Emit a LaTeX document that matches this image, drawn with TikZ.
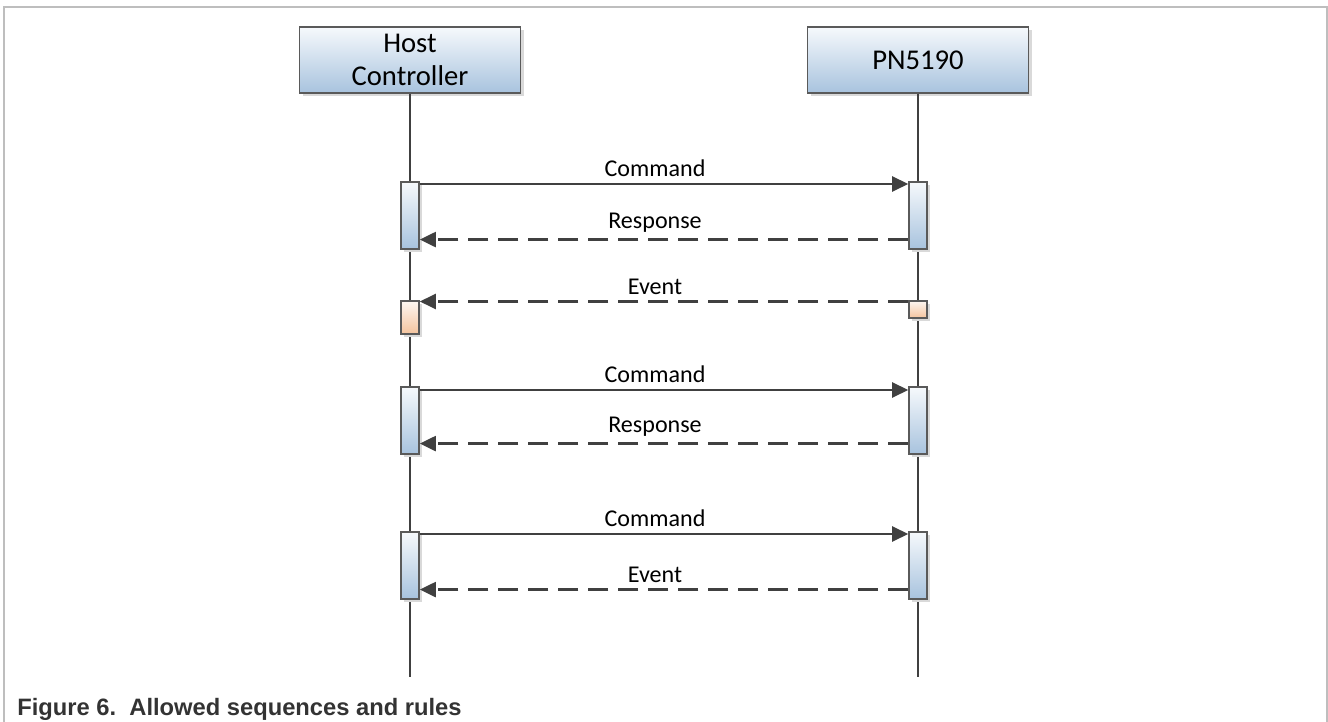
\documentclass[tikz,border=0pt]{standalone}
\usepackage{fontspec}
\setmainfont{Carlito}
\newfontfamily\capfont{Liberation Sans}
\usetikzlibrary{shapes,shadows,arrows.meta}
\definecolor{lineg}{HTML}{404040}
\definecolor{edgeg}{HTML}{5A5A5A}
\definecolor{frameg}{HTML}{BEBEBE}
\definecolor{bluetop}{HTML}{F6F9FC}
\definecolor{bluebot}{HTML}{A8C3DE}
\definecolor{orgtop}{HTML}{FDF7F2}
\definecolor{orgbot}{HTML}{F4C49E}
\tikzstyle{actor}=[rectangle,draw=edgeg,line width=0.9pt,top color=bluetop,bottom color=bluebot,minimum width=4.42cm,minimum height=1.32cm,align=center,font=\fontsize{16.3}{19}\selectfont,drop shadow={shadow xshift=0.07cm,shadow yshift=-0.07cm,fill=black!15,opacity=1}]
\tikzstyle{act}=[rectangle,draw=edgeg,line width=0.9pt,top color=bluetop,bottom color=bluebot,minimum width=0.36cm,inner sep=0pt,anchor=north,drop shadow={shadow xshift=0.06cm,shadow yshift=-0.06cm,fill=black!15,opacity=1}]
\tikzstyle{evt}=[act,top color=orgtop,bottom color=orgbot]
\tikzstyle{life}=[lineg,line width=1.3pt]
\tikzstyle{call}=[lineg,line width=1.3pt,-{Triangle[length=0.32cm,width=0.3cm]}]
\tikzstyle{reply}=[call,dash pattern=on 0.4cm off 0.2cm]
\tikzstyle{msg}=[midway,above,xshift=-0.18cm,text=black,inner sep=0.12cm,font=\fontsize{13.7}{16}\selectfont]

\begin{document}
\begin{tikzpicture}[x=0.02cm,y=-0.02cm]
  \useasboundingbox (0,0) rectangle (1328,722);
  \draw[frameg,line width=1.1pt] (4,722) -- (4,7) -- (1327,7) -- (1327,722);

  % lifelines
  \node[actor] (hc) at (410,60) {Host\\Controller};
  \node[actor] (pn) at (918,60) {PN5190};
  \coordinate (hcend) at (410,677);
  \coordinate (pnend) at (918,677);
  \draw[life] (hc) -- (hcend);
  \draw[life] (pn) -- (pnend);

  % command / response
  \node[act,minimum height=1.34cm] (h1) at (410,181) {};
  \node[act,minimum height=1.34cm] (p1) at (918,181) {};
  \draw[call] ([yshift=-0.06cm]h1.north east) -- ([yshift=-0.06cm]p1.north west)
    node[msg] {Command};
  \draw[reply] ([yshift=0.2cm]p1.south west) -- ([yshift=0.2cm]h1.south east)
    node[msg] {Response};

  % event
  \node[evt,minimum height=0.66cm] (h2) at (410,300) {};
  \node[evt,minimum height=0.34cm] (p2) at (918,300) {};
  \draw[reply] ([yshift=-0.03cm]p2.north west) -- ([yshift=-0.03cm]h2.north east)
    node[msg] {Event};

  % command / response
  \node[act,minimum height=1.34cm] (h3) at (410,386) {};
  \node[act,minimum height=1.34cm] (p3) at (918,386) {};
  \draw[call] ([yshift=-0.08cm]h3.north east) -- ([yshift=-0.08cm]p3.north west)
    node[msg] {Command};
  \draw[reply] ([yshift=0.22cm]p3.south west) -- ([yshift=0.22cm]h3.south east)
    node[msg] {Response};

  % command / event
  \node[act,minimum height=1.34cm] (h4) at (410,531) {};
  \node[act,minimum height=1.34cm] (p4) at (918,531) {};
  \draw[call] ([yshift=-0.06cm]h4.north east) -- ([yshift=-0.06cm]p4.north west)
    node[msg] {Command};
  \draw[reply] ([yshift=0.2cm]p4.south west) -- ([yshift=0.2cm]h4.south east)
    node[msg] {Event};

  \node[anchor=base west,inner sep=0pt,text=black!80,font=\capfont\bfseries\fontsize{13.5}{16}\selectfont] (cap) at (17,715) {Figure 6.\ \ Allowed sequences and rules};
\end{tikzpicture}
\end{document}
